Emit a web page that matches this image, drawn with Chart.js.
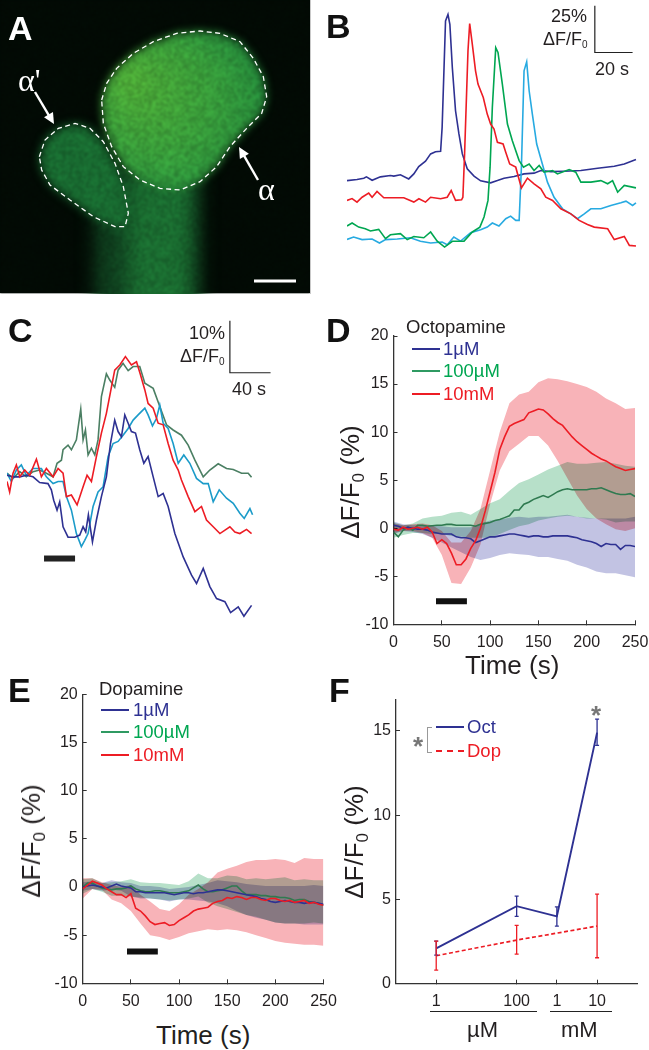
<!DOCTYPE html>
<html>
<head>
<meta charset="utf-8">
<script src="https://cdn.jsdelivr.net/npm/chart.js@4/dist/chart.umd.min.js"></script>
<style>
html, body { margin: 0; padding: 0; background: #fff; }
#page { position: relative; width: 649px; height: 1050px; overflow: hidden; font-family: "Liberation Sans", Arial, sans-serif; color: #231f20; }
canvas { position: absolute; display: block; }
.t { position: absolute; white-space: nowrap; line-height: 1; }
.p { font-weight: bold; font-size: 34px; color: #111; }
.s { font-size: 18px; }
.l { font-size: 18.5px; }
.ax { font-size: 26px; }
.ax sub { font-size: 17px; vertical-align: -5px; line-height: 0; }
.s sub { font-size: 10px; vertical-align: -3px; line-height: 0; }
.rot { transform: translate(-50%, -50%) rotate(-90deg); }
.seg { position: absolute; height: 0; }
</style>
</head>
<body>
<div id="page">
  <canvas id="panel-a" width="311" height="294" style="left:0;top:0"></canvas>
  <canvas id="panel-b" width="302" height="254" style="left:347px;top:3px"></canvas>
  <canvas id="panel-c" width="265" height="307" style="left:7px;top:315px"></canvas>
  <canvas id="panel-d" width="319" height="340" style="left:330px;top:310px"></canvas>
  <canvas id="panel-e" width="345" height="340" style="left:0;top:680px"></canvas>
  <canvas id="panel-f" width="319" height="320" style="left:330px;top:690px"></canvas>

  <div class="t p" style="left:8px;top:11px;color:#fff">A</div>
  <div class="t" style="left:18px;top:62px;color:#fff;font:32px 'Liberation Serif'">α'</div>
  <div class="t" style="left:258px;top:171px;color:#fff;font:32px 'Liberation Serif'">α</div>

  <div class="t p" style="left:326px;top:9px">B</div>
  <div class="t s" style="left:551px;top:7px">25%</div>
  <div class="t s" style="left:543px;top:30px">ΔF/F<sub>0</sub></div>
  <div class="t s" style="left:595px;top:60px">20 s</div>

  <div class="t p" style="left:8px;top:313px">C</div>
  <div class="t s" style="left:189px;top:324px">10%</div>
  <div class="t s" style="left:180px;top:347px">ΔF/F<sub>0</sub></div>
  <div class="t s" style="left:232px;top:380px">40 s</div>

  <div class="t p" style="left:326px;top:313px">D</div>
  <div class="t l" style="left:406px;top:318px">Octopamine</div>
  <div class="seg" style="left:412px;top:348px;width:28px;border-top:2px solid #2e3192"></div>
  <div class="seg" style="left:412px;top:370px;width:28px;border-top:2px solid #2f9a62"></div>
  <div class="seg" style="left:412px;top:393px;width:28px;border-top:2px solid #ed1c24"></div>
  <div class="t l" style="left:443px;top:340px;color:#2e3192">1µM</div>
  <div class="t l" style="left:443px;top:362px;color:#00a651">100µM</div>
  <div class="t l" style="left:443px;top:385px;color:#ed1c24">10mM</div>
  <div class="t ax rot" style="left:350px;top:482px">ΔF/F<sub>0</sub> (%)</div>
  <div class="t ax" style="left:465px;top:652px">Time (s)</div>

  <div class="t p" style="left:8px;top:673px">E</div>
  <div class="t l" style="left:99px;top:680px">Dopamine</div>
  <div class="seg" style="left:101px;top:709px;width:28px;border-top:2px solid #2e3192"></div>
  <div class="seg" style="left:101px;top:731px;width:28px;border-top:2px solid #2f9a62"></div>
  <div class="seg" style="left:101px;top:754px;width:28px;border-top:2px solid #ed1c24"></div>
  <div class="t l" style="left:133px;top:701px;color:#2e3192">1µM</div>
  <div class="t l" style="left:133px;top:723px;color:#00a651">100µM</div>
  <div class="t l" style="left:133px;top:746px;color:#ed1c24">10mM</div>
  <div class="t ax rot" style="left:31px;top:841px">ΔF/F<sub>0</sub> (%)</div>
  <div class="t ax" style="left:156px;top:1022px">Time (s)</div>

  <div class="t p" style="left:329px;top:673px">F</div>
  <div class="seg" style="left:436px;top:726px;width:28px;border-top:2px solid #2e3192"></div>
  <div class="seg" style="left:436px;top:750px;width:28px;border-top:2px dashed #ed1c24"></div>
  <div class="t l" style="left:467px;top:718px;color:#2e3192">Oct</div>
  <div class="t l" style="left:467px;top:742px;color:#ed1c24">Dop</div>
  <div class="seg" style="left:427px;top:727px;width:4px;height:24px;border:1px solid #999;border-right:none"></div>
  <div class="t" style="left:413px;top:731px;color:#777;font:bold 26px 'Liberation Sans'">*</div>
  <div class="t" style="left:591px;top:700px;color:#777;font:bold 26px 'Liberation Sans'">*</div>
  <div class="t ax rot" style="left:354px;top:842px">ΔF/F<sub>0</sub> (%)</div>
  <div class="seg" style="left:430px;top:1011px;width:107px;border-top:1px solid #222"></div>
  <div class="seg" style="left:550px;top:1011px;width:62px;border-top:1px solid #222"></div>
  <div class="t" style="left:467px;top:1019px;font-size:22px">µM</div>
  <div class="t" style="left:561px;top:1019px;font-size:22px">mM</div>
</div>

<script>
// Panel B: four spontaneous transients (time in s, signal in % on the 25% / 20 s scale bar)
const bNavyT = [0,5.3,8.9,10.3,13.3,17.7,23,24.8,28.3,32.7,35.4,38,41.6,44.3,46.9,49.6,50.4,52.2,53.5,54.5,55.8,57.5,59.3,61.1,63.7,67.3,70.8,76.1,79.7,83.2,88.5,93.8,99.1,102.7,108,115,123.9,132.8,141.6,146.9,153.1];
const bNavyV = [40.9,41.5,42.2,42.9,41.1,42.9,43.6,43.3,44,41.8,44.5,48.4,51.3,55.2,56.4,56.6,69.4,126.4,129.9,124.6,101.5,78.3,65.9,55.2,47.2,43.3,40.8,39.7,40.9,42.2,43.1,44.5,44.9,46.3,45.7,45.9,46.3,47.5,48.6,49.8,52.2];
const bRedT = [0,2.7,5.3,8,11.5,13.3,15.9,19.5,24.8,30.1,35.4,38.1,41.6,44.3,49.6,53.1,55.2,57.5,60.7,61.4,62.3,64.1,65,66.4,68.1,69.4,72.2,74.3,76.1,77.9,79.7,82.7,84.1,86.2,89.4,92.4,95.6,99.1,102.7,105.3,108.9,113.3,118.6,123,127.4,131,138.1,141.6,146.9,149.6,153.1];
const bRedV = [30.3,31.3,29.4,32,34.2,32,35.1,31.7,31.7,31.7,29.4,31.2,29.4,32,31.2,32,35.6,30.3,30.6,32,55.2,110.4,125,113.9,99.7,92.6,85.4,76.5,71.2,68.5,61.4,60.5,56.1,49.8,48.1,37,42.2,39.2,36.5,32,30.3,25.8,23.1,19.6,17.4,16,15.1,9.3,11,6.2,5.9];
const bGreenT = [0,2.7,6.2,9.7,12.4,16.8,20.4,23,28.3,31.9,35.4,40.7,44.3,47.8,51.7,55.8,62,66.4,70.4,72.6,74.7,75.8,77,78.8,80,82.3,85,87.6,91.2,93.5,96.5,99.1,101.8,104.4,108.9,111.5,117.7,121.2,123.9,129.2,134.5,138.1,140.7,143.4,146.9,153.1];
const bGreenV = [16.6,18.2,16,15.1,13.9,14.8,9.8,11.9,12.5,9.3,11,10.3,13.4,8.5,5.3,8.4,8.5,13.4,16,21.4,30.3,48.1,80.1,112.1,109.5,92.6,71.2,62.3,51.6,48.1,49.8,46.3,49,45.4,46.3,44.5,46.8,45.4,40.1,40.1,40.9,39.2,40.9,34.7,38.3,37];
const bCyanT = [0,3.5,8,13.3,17.2,20.4,26.6,33.6,38.9,44.3,50.4,53.1,56.6,60.2,65.5,70.8,74.3,77,80.5,84.1,86.7,89.4,91.2,92.4,93.8,95.2,96.5,98.2,100.5,103.5,106.2,109.7,114.2,118.6,122.1,125.7,129.2,134.5,139.8,145.1,147.8,151.3,153.1];
const bCyanV = [9.4,10.7,9.3,9.6,7.5,9.3,9.6,10.3,8.4,7.5,8,6.6,10.7,8.5,13,14.6,16,18.2,16.6,20.5,21.9,19.6,19.6,48.1,99.7,104.5,89,76.5,60.5,49.8,40.1,32,25.8,23.1,20.5,23.1,25.8,25.8,27.6,29,29.9,27.6,29];
const bScaleT = [131.3,131.3,151.3];
const bScaleV = [134.5,109.5,109.5];

// Panel C: four traces during the stimulus (10% / 40 s scale bar)
const cNavyT = [0,5.9,12.5,19,25.6,32.1,40.3,43.6,45.9,49.2,51.8,55.1,60,66.6,71.5,74.8,77.4,80,84,87.9,92.8,97.7,101.7,105.9,109.2,112.5,115.8,119.1,122.3,126.3,130.5,134.5,138.7,143.7,148.6,153.5,158.4,165,173.2,181.4,186.3,192.9,199.4,206,214.2,219.8,227.3,232.9,240.4];
const cNavyV = [27.2,26.9,26.9,27.2,26.9,25.8,25.6,24.4,22.4,20.5,22.1,17.3,15.3,15.3,15.7,17.3,16.3,19.6,14.4,18.6,23.1,26.9,33.3,37.8,35.6,34.6,38.8,37.2,35.6,35.3,32.1,29.5,30.8,26.9,23.1,23.7,21.2,16,11.5,8,6.4,9.3,5.8,3.5,2.9,0.8,1.9,0.1,2.2];
const cRedT = [0,2.6,5.9,9.2,12.5,17.4,22.3,28.9,33.8,38.7,45.3,50.2,55.1,58.4,63.3,68.9,74.8,78.7,83,87.9,92.8,97.7,102.7,105.9,110.9,116.4,122.3,127.3,131.2,135.5,138.7,143.7,148.6,153.5,158.4,163.3,168.3,171.5,178.1,184.7,191.2,196.1,202.7,209.3,219.1,224,228.9,235.5,240.4];
const cRedV = [26,24,27.6,29.2,26.9,28.2,27.2,30.3,26.9,28.5,26.9,28.5,27.6,23.1,23.4,21.5,25,27.2,26,30.8,35.3,39.1,44.2,47.4,48.4,50,48.4,49,46.5,43.6,41,40.1,37.2,36.9,33.3,30.1,28.2,26.3,23.1,20.2,21.2,18.6,17.3,16,17.3,16.3,16,16.8,16];
const cGreenT = [0,5.9,12.5,19,25.6,32.1,38.7,45.3,49.2,53.5,55.1,60,63.3,68.2,72.5,74.8,77.1,79.7,83,86.3,89.5,92.8,97.7,101,105.9,109.2,114.1,119.1,124,130.5,135.5,143.7,150.2,156.8,163.3,171.5,178.1,184.7,192.9,199.4,207.6,215.8,222.4,230.6,237.1,240.4];
const cGreenV = [27.6,26.6,27.9,26.9,27.9,28.2,27.6,26.9,29.5,30.1,32.1,33,32.1,34,39.9,34,35.9,31.1,32.4,31.1,34,42.3,46.7,45.5,44.1,47.4,48.7,47.3,48.1,48.1,44.9,43.9,40.4,36.9,35.9,34.9,33,30.1,26.9,28.2,29.4,28.5,28.3,27.6,27.6,26.8];
const cCyanT = [0,4.3,9.2,14.1,19,25.6,33.8,38.7,45.3,50.2,55.1,58.4,63.3,68.2,73.1,76.4,79.7,84.6,89.5,94.5,99.4,104.3,109.2,114.1,119.1,124,128.9,135.5,138.7,143,146.9,150.2,153.5,158.4,163.3,168.3,173.8,179.7,186.3,192.9,197.8,202.7,208.6,215.8,222.4,228.9,233.2,238.8,241.4];
const cCyanV = [27.6,26,28.2,29.2,27.2,28.5,28.5,26.9,25.6,26,26,23.1,20.5,16,13.5,14.7,16,21.2,24,25,30.8,33.3,33.7,34.9,36.2,37.8,38.8,40.1,38.8,36.7,38.1,40.7,37.2,36.2,33.3,29.5,31.1,29.5,26.6,25.6,25.6,22.1,24.4,22.8,21.8,19.9,18.9,20.8,19.6];
const cScaleT = [219.1,219.1,259.1];
const cScaleV = [56.9,46.9,46.9];
const cStimT = [36.4,66.9];
const cStimV = [11.2,11.2];

// Panels D and E share the same time grid
const timeLine = [0,5,10,15,20,25,30,35,40,45,50,55,60,65,70,75,80,85,90,95,100,105,110,115,120,125,130,135,140,145,150,155,160,165,170,175,180,185,190,195,200,205,210,215,220,225,230,235,240,245,250];
const timeBand = [0,10,20,30,40,50,60,70,80,90,100,110,120,130,140,150,160,170,180,190,200,210,220,230,240,250];
const timeTicks = [0,50,100,150,200,250];

// Panel D: octopamine
const dBlue = [0.3,0.2,0,0.1,0,-0.1,-0.1,-0.2,-0.4,-0.5,-0.6,-0.6,-0.6,-0.9,-1,-1,-1.1,-1.5,-1.3,-1.1,-0.9,-0.9,-0.8,-0.7,-0.6,-0.6,-0.7,-0.8,-0.9,-0.8,-0.8,-0.9,-0.9,-0.8,-0.8,-0.8,-0.8,-0.9,-1,-1.2,-1.3,-1.4,-1.6,-1.9,-1.6,-1.7,-1.7,-2.2,-1.8,-1.8,-1.9];
const dGreen = [-0.4,-0.9,-0.2,0.1,-0.2,0.3,0.3,0.2,0.25,0.3,0.3,0.4,0.4,0.3,0.3,0.3,0.3,0.2,0.4,0.5,0.6,0.8,0.9,1.1,1.3,1.9,1.9,2.5,2.7,3,3.2,3.4,3.2,3.5,3.8,4,4.1,4,4,4,4,4.1,4.1,4.2,4,3.8,3.6,3.5,3.5,3.6,3.3];
const dRed = [-0.1,-0.2,0.1,-0.1,0,0.1,-0.1,0.1,-0.4,-1.6,-1.2,-1.6,-2.6,-3.8,-3.8,-3.2,-2.1,-1.3,0,1.8,3.8,5.8,8.2,9.5,10.6,10.9,11.1,11.3,12,12.2,12.4,12.3,11.9,11.4,11,10.7,10.1,9.5,9,8.6,8.2,7.8,7.5,7.2,7,6.7,6.4,6.2,6,6.1,6.2];
const dBlueHi = [0.7,0.4,0.3,0.3,0.3,0.2,0.1,0.1,0.1,0.5,0.8,0.9,1.1,1.2,1.1,1.2,1.2,1.3,1.4,1.2,1.1,1,1,1,1,1.2];
const dBlueLo = [-0.6,-0.3,-0.4,-0.6,-1,-1.5,-2,-2.5,-3,-3.3,-3.1,-2.8,-2.6,-2.7,-2.8,-3,-3,-3.2,-3.4,-3.8,-4.1,-4.5,-4.7,-4.7,-4.9,-5.1];
const dGreenHi = [0.6,0.3,0.5,1,1.2,1.3,1.6,1.7,1.4,2,2.6,3,3.9,4.7,5.1,5.6,6.1,6.5,6.9,6.7,6.7,6.8,6.9,6.7,6.5,6.4];
const dGreenLo = [-1,-0.7,-0.5,-0.5,-0.6,-0.6,-0.8,-0.9,-1,-1,-1,-0.6,-0.2,0.2,0.4,0.8,1,1.2,1.3,1.2,1,1,0.9,0.6,0.7,0.7];
const dRedHi = [0.5,0.3,0.4,0.5,0.3,-0.3,-1.5,-1.5,-0.3,2,6,10,13,13.9,14.2,15.2,15.6,15.5,15.3,15,14.7,14.2,13.5,13,12.4,12.5];
const dRedLo = [-0.5,-0.3,-0.3,-0.5,-1,-2.8,-5.7,-5.8,-4.1,-1.7,2.5,6,8,8.8,9.6,9.6,8.6,7,5.2,3.4,2,1,0.4,-0.1,-0.3,0];
const dStimT = [44,76];
const dStimV = [-7.6,-7.6];

// Panel E: dopamine
const eBlue = [0,0.1,0.2,0.1,0,-0.1,0.1,0.3,0.1,0,-0.1,-0.5,-0.5,-0.6,-0.6,-0.6,-0.6,-0.6,-0.7,-0.8,-0.7,-0.6,-0.6,-0.7,-0.6,-0.6,-0.5,-0.4,-0.3,-0.3,-0.4,-0.5,-0.6,-0.7,-0.8,-0.9,-1,-1.2,-1.3,-1.5,-1.6,-1.5,-1.4,-1.5,-1.6,-1.6,-1.7,-1.6,-1.6,-1.7,-1.8];
const eGreen = [0,0.4,0.4,0.1,-0.1,-0.2,-0.3,-0.2,-0.2,-0.1,0.1,-0.2,-0.4,-0.5,-0.5,-0.4,-0.4,-0.5,-0.6,-0.6,-0.6,-0.5,-0.4,-0.1,0.2,-0.2,-0.5,-0.5,-0.4,-0.3,-0.1,0.1,0.1,-0.4,-0.8,-0.8,-0.8,-0.9,-0.9,-1,-1,-1.1,-1.1,-1.2,-1.4,-1.3,-1.3,-1.5,-1.6,-1.7,-1.9];
const eRed = [-0.2,0.2,0.6,0.4,0.2,-0.2,-0.5,-0.8,-0.8,-1.1,-0.7,-2.2,-2.5,-3,-3.6,-3.9,-3.8,-3.7,-4,-3.9,-3.5,-3.2,-2.9,-2.5,-2.3,-2.2,-2.1,-1.7,-1.5,-1.4,-1.1,-1.2,-1,-1.1,-1.3,-1.1,-1.1,-1.3,-1.4,-1.2,-1.2,-1.4,-1.5,-1.4,-1.6,-1.5,-1.4,-1.7,-1.6,-1.8,-1.9];
const eBlueHi = [0.5,0.6,0.4,0.7,0.5,0.4,0.1,0.1,0,-0.2,-0.1,0,0.2,0.4,0.7,0.6,0.5,0.3,0.2,0.1,0.1,0.1,0.1,0.1,0.2,0.1];
const eBlueLo = [-0.4,-0.2,-0.4,-0.3,-0.4,-1,-1.2,-1.2,-1.3,-1.5,-1.3,-1.3,-1.4,-1.5,-1.7,-2,-2.5,-2.9,-3.2,-3.4,-3.7,-3.8,-3.8,-3.9,-3.9,-3.9];
const eGreenHi = [0.8,0.9,0.4,0.5,0.6,0.8,0.5,0.4,0.4,0.3,0.2,0.6,1.4,0.9,0.9,1.2,1.1,0.8,0.9,0.8,0.9,1,0.7,0.8,0.7,0.7];
const eGreenLo = [-0.7,-0.2,-0.5,-0.9,-0.9,-1,-1.1,-1.2,-1.3,-1.4,-1.3,-1.2,-1,-1.6,-2,-2.3,-2.6,-2.9,-3.1,-3.4,-3.7,-3.8,-3.8,-3.8,-3.7,-3.8];
const eRedHi = [0.9,0.9,0.5,0.2,0,0.2,-0.8,-1.5,-2.3,-2.5,-1.8,-0.8,-0.2,0.5,1.5,1.9,2.2,2.6,2.8,2.8,2.9,2.8,2.5,3,2.9,2.9];
const eRedLo = [-1.2,-0.2,-0.3,-1.3,-1.7,-2.5,-3.8,-5,-5.2,-5.5,-5.2,-4.8,-4.6,-4.4,-4.5,-4.4,-4.5,-4.7,-5,-5.3,-5.6,-5.8,-5.9,-6,-6,-6.1];
const eStimT = [46,78];
const eStimV = [-6.7,-6.7];

// Panel F: dose response, dose in uM on a log axis
const fDoses = [1,100,1000,10000];
const fDoseLabels = ['1','100','1','10'];
const fValueTicks = [0,5,10,15];
const octMean = [2.1,4.6,4,14.9];
const octHi = [2.53,5.2,4.56,15.7];
const octLo = [1.7,4,3.42,14.15];
const dopMean = [1.66,2.59,3,3.42];
const dopHi = [2.53,3.46,null,5.32];
const dopLo = [0.81,1.76,null,1.54];

const NAVY = '#2e3192', RED = '#ed1c24', INK = '#231f20';

function xy(times, values) {
    return times.map(function(t, i) { return { x: t, y: values[i] }; });
}

function trace(times, values, color, width) {
    return { data: xy(times, values), borderColor: color, borderWidth: width || 1.6, pointRadius: 0, tension: 0, fill: false };
}

function band(times, hi, lo, color) {
    return [
        { data: xy(times, hi), borderWidth: 0, pointRadius: 0, backgroundColor: color, fill: '+1' },
        { data: xy(times, lo), borderWidth: 0, pointRadius: 0, fill: false }
    ];
}

// Fixed plot area: tick labels must not push the axes inwards
function fixXAxis(axis, height) {
    axis.height = height;
    axis.paddingLeft = 0;
    axis.paddingRight = 0;
}

function fixYAxis(axis, width) {
    axis.width = width;
    axis.paddingTop = 0;
    axis.paddingBottom = 0;
}

// Panels without axes: the canvas is exactly the plot area
function tracePanel(id, xMax, yMin, yMax, datasets) {
    return new Chart(document.getElementById(id), {
        type: 'line',
        data: { datasets: datasets },
        options: {
            responsive: false,
            animation: false,
            layout: { padding: 0 },
            plugins: { legend: { display: false }, tooltip: { enabled: false } },
            scales: {
                x: { type: 'linear', display: false, min: 0, max: xMax },
                y: { type: 'linear', display: false, min: yMin, max: yMax }
            }
        }
    });
}

function axisStyle(tickPadding) {
    return {
        grid: { drawOnChartArea: false, tickLength: -4, color: '#333', lineWidth: 1 },
        border: { color: '#333', width: 1.3 },
        ticks: { color: INK, font: { family: 'Liberation Sans', size: 16 }, padding: tickPadding, maxRotation: 0, autoSkip: false }
    };
}

// Shaded bands overlap like ink: multiply until the last band is painted
const multiplyBands = {
    id: 'multiplyBands',
    beforeDatasetsDraw: function(chart) {
        chart.ctx.globalCompositeOperation = 'multiply';
    },
    afterDatasetDraw: function(chart, args) {
        if (args.index === 4) chart.ctx.globalCompositeOperation = 'source-over';
    }
};

function timePanel(id, pad, yWidth, xHeight, lines, bands) {
    return new Chart(document.getElementById(id), {
        type: 'line',
        data: { datasets: lines.concat(bands) },
        plugins: [multiplyBands],
        options: {
            responsive: false,
            animation: false,
            layout: { padding: pad },
            plugins: { legend: { display: false }, tooltip: { enabled: false } },
            scales: {
                x: Object.assign(axisStyle(13), {
                    type: 'linear', min: 0, max: 250,
                    afterBuildTicks: function(axis) { axis.ticks = timeTicks.map(function(v) { return { value: v }; }); },
                    afterFit: function(axis) { fixXAxis(axis, xHeight); }
                }),
                y: Object.assign(axisStyle(9), {
                    type: 'linear', min: -10, max: 20,
                    afterFit: function(axis) { fixYAxis(axis, yWidth); }
                })
            }
        }
    });
}

// Micrograph of panel A, painted as soft shapes
function paintMicrograph() {
    const canvas = document.getElementById('panel-a');
    const ctx = canvas.getContext('2d', { willReadFrequently: true });
    const alpha = [[305,300],[320,250],[350,205],[400,160],[460,125],[530,100],[600,93],[660,100],[720,125],[760,175],[790,230],[800,290],[785,340],[740,385],[690,440],[650,500],[600,545],[540,570],[480,565],[420,540],[370,500],[335,440],[310,370]];
    const alphaPrime = [[118,470],[135,420],[175,385],[225,370],[270,385],[310,425],[345,490],[370,560],[385,640],[375,680],[345,680],[280,650],[210,600],[150,555],[125,510]];
    function outline(points) {
        ctx.beginPath();
        points.forEach(function(p, i) {
            if (i === 0) ctx.moveTo(p[0] / 3, p[1] / 3);
            else ctx.lineTo(p[0] / 3, p[1] / 3);
        });
        ctx.closePath();
    }
    ctx.fillStyle = '#020a04';
    ctx.fillRect(0, 0, 310, 293);

    ctx.filter = 'blur(9px)';
    ctx.fillStyle = '#0f3f1e';
    ctx.fillRect(95, 170, 105, 145);
    ctx.fillStyle = '#1a6c30';
    ctx.fillRect(128, 180, 62, 135);
    ctx.filter = 'blur(5px)';
    ctx.fillStyle = '#186a30';
    outline(alphaPrime);
    ctx.fill();
    ctx.filter = 'blur(4px)';
    const glow = ctx.createRadialGradient(130, 80, 10, 175, 115, 110);
    glow.addColorStop(0, '#4aa636');
    glow.addColorStop(0.55, '#35993a');
    glow.addColorStop(1, '#1e8039');
    ctx.fillStyle = glow;
    outline(alpha);
    ctx.fill();
    ctx.filter = 'none';

    // speckle of the confocal image, a fixed pattern softened a little
    const img = ctx.getImageData(0, 0, 310, 293);
    for (let y = 0; y < 293; y++) {
        for (let x = 0; x < 310; x++) {
            const s = Math.sin((x >> 1) * 12.9898 + (y >> 1) * 78.233) * 43758.5453;
            const grain = 1 + 0.3 * (s - Math.floor(s) - 0.5);
            const i = (y * 310 + x) * 4;
            img.data[i] *= grain;
            img.data[i + 1] *= grain;
            img.data[i + 2] *= grain;
        }
    }
    ctx.putImageData(img, 0, 0);
    ctx.filter = 'blur(1px)';
    ctx.drawImage(canvas, 0, 0);
    ctx.filter = 'none';

    ctx.strokeStyle = '#fff';
    ctx.lineWidth = 1.3;
    ctx.setLineDash([5, 3.5]);
    outline(alpha);
    ctx.stroke();
    outline(alphaPrime);
    ctx.stroke();
    ctx.setLineDash([]);

    function arrow(x1, y1, x2, y2) {
        const a = Math.atan2(y2 - y1, x2 - x1);
        ctx.strokeStyle = ctx.fillStyle = '#fff';
        ctx.lineWidth = 2.4;
        ctx.beginPath();
        ctx.moveTo(x1, y1);
        ctx.lineTo(x2 - 6 * Math.cos(a), y2 - 6 * Math.sin(a));
        ctx.stroke();
        ctx.beginPath();
        ctx.moveTo(x2, y2);
        ctx.lineTo(x2 - 12 * Math.cos(a - 0.45), y2 - 12 * Math.sin(a - 0.45));
        ctx.lineTo(x2 - 12 * Math.cos(a + 0.45), y2 - 12 * Math.sin(a + 0.45));
        ctx.closePath();
        ctx.fill();
    }
    arrow(35, 92, 54, 124);
    arrow(258, 180, 239, 147);

    ctx.fillStyle = '#fff';
    ctx.fillRect(254, 279.5, 42, 3);
    ctx.fillStyle = '#c9c9c9';
    ctx.fillRect(310, 0, 1, 294);
}

paintMicrograph();

tracePanel('panel-b', 160, 0, 136, [
    trace(bRedT, bRedV, RED),
    trace(bGreenT, bGreenV, '#00a651'),
    trace(bCyanT, bCyanV, '#27aae1'),
    trace(bNavyT, bNavyV, NAVY),
    trace(bScaleT, bScaleV, '#222', 1.2)
]);

tracePanel('panel-c', 260.5, -1, 58, [
    trace(cScaleT, cScaleV, '#222', 1.2),
    trace(cStimT, cStimV, '#222', 6),
    trace(cRedT, cRedV, RED),
    trace(cNavyT, cNavyV, NAVY),
    trace(cCyanT, cCyanV, '#1b9bc9'),
    trace(cGreenT, cGreenV, '#4b7f63')
]);

timePanel('panel-d', { left: 0, top: 26, right: 14, bottom: 0 }, 63.5, 25.7, [
    trace(dStimT, dStimV, '#111', 6),
    trace(timeLine, dRed, RED),
    trace(timeLine, dBlue, NAVY),
    trace(timeLine, dGreen, '#2f7a50')
], band(timeBand, dRedHi, dRedLo, '#f8b3b8').concat(band(timeBand, dGreenHi, dGreenLo, '#b7e0c9'), band(timeBand, dBlueHi, dBlueLo, '#c2c3e3')));

timePanel('panel-e', { left: 0, top: 14.3, right: 21.5, bottom: 0 }, 82.7, 36.7, [
    trace(eStimT, eStimV, '#111', 6),
    trace(timeLine, eRed, RED),
    trace(timeLine, eBlue, NAVY),
    trace(timeLine, eGreen, '#2f7a50')
], band(timeBand, eRedHi, eRedLo, '#f8b3b8').concat(band(timeBand, eGreenHi, eGreenLo, '#b7e0c9'), band(timeBand, eBlueHi, eBlueLo, '#c2c3e3')));

// Error bars for panel F
const errorBars = {
    id: 'errorBars',
    afterDatasetsDraw: function(chart) {
        const ctx = chart.ctx, xs = chart.scales.x, ys = chart.scales.y;
        function whisker(hi, lo, color) {
            ctx.strokeStyle = color;
            ctx.lineWidth = 1.3;
            fDoses.forEach(function(dose, i) {
                if (hi[i] === null) return;
                const px = xs.getPixelForValue(dose), top = ys.getPixelForValue(hi[i]), bottom = ys.getPixelForValue(lo[i]);
                ctx.beginPath();
                ctx.moveTo(px, top);
                ctx.lineTo(px, bottom);
                ctx.moveTo(px - 2, top);
                ctx.lineTo(px + 2, top);
                ctx.moveTo(px - 2, bottom);
                ctx.lineTo(px + 2, bottom);
                ctx.stroke();
            });
        }
        whisker(octHi, octLo, NAVY);
        whisker(dopHi, dopLo, RED);
    }
};

const fx = axisStyle(12), fy = axisStyle(9);
fx.ticks.callback = function(value, index) { return fDoseLabels[index]; };
new Chart(document.getElementById('panel-f'), {
    type: 'line',
    data: {
        datasets: [
            { data: xy(fDoses, octMean), borderColor: NAVY, borderWidth: 1.9, pointRadius: 0, tension: 0, fill: false },
            { data: xy(fDoses, dopMean), borderColor: RED, borderWidth: 1.7, borderDash: [4, 2.5], pointRadius: 0, tension: 0, fill: false }
        ]
    },
    plugins: [errorBars],
    options: {
        responsive: false,
        animation: false,
        layout: { padding: { left: 0, top: 9.3, right: 11.7, bottom: 0 } },
        plugins: { legend: { display: false }, tooltip: { enabled: false } },
        scales: {
            x: Object.assign(fx, {
                type: 'logarithmic', min: 0.1, max: 100000,
                afterBuildTicks: function(axis) { axis.ticks = fDoses.map(function(v) { return { value: v }; }); },
                afterFit: function(axis) { fixXAxis(axis, 26.3); }
            }),
            y: Object.assign(fy, {
                type: 'linear', min: 0, max: 16.88,
                afterBuildTicks: function(axis) { axis.ticks = fValueTicks.map(function(v) { return { value: v }; }); },
                afterFit: function(axis) { fixYAxis(axis, 66); }
            })
        }
    }
});
</script>
</body>
</html>
